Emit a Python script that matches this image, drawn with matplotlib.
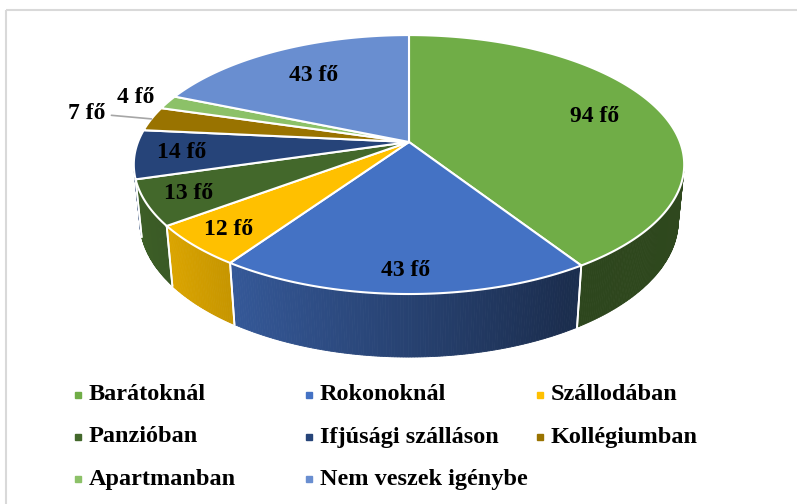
import numpy as np
import matplotlib.pyplot as plt
from matplotlib.patches import Polygon, Rectangle

# data
categories = ["Barátoknál", "Rokonoknál", "Szállodában", "Panzióban",
              "Ifjúsági szálláson", "Kollégiumban", "Apartmanban", "Nem veszek igénybe"]
values = [94, 43, 12, 13, 14, 7, 4, 43]
value_labels = [f"{v} fő" for v in values]

colors = ["#70AD47", "#4472C4", "#FFC000", "#43682B",
          "#264479", "#997300", "#8CC168", "#698ED0"]
# radial position of each data label (fraction of radius)
label_r = [0.74, 0.87, 0.86, 0.85, 0.83, 1.26, 1.14, 0.70]

# 3d pie geometry (pixel space)
CX, CY = 409, 142          # pie centre on the image
S = 271                    # radius scale
PHI = np.radians(27.6)     # tilt
D = 5.09                   # camera distance
H = 0.236                  # thickness


def proj(x, y, z=0.0):
    w = 1 + (y * np.cos(PHI) - z * np.sin(PHI)) / D
    sx = S * x / w
    sy = S * (y * np.sin(PHI) + z * np.cos(PHI)) / w
    return CX + sx, CY - sy


def rim(t_deg, r=1.0, z=0.0):
    t = np.radians(t_deg)
    return proj(r * np.cos(t), r * np.sin(t), z)


def shade(hexcol, t_deg):
    x = np.cos(np.radians(t_deg))
    f = np.interp(x, [-1, -0.55, 0.5, 1], [0.93, 0.77, 0.40, 0.42])
    rgb = np.array([int(hexcol[i:i + 2], 16) for i in (1, 3, 5)]) / 255
    return tuple(rgb * f)


fig = plt.figure(figsize=(7.97, 5.04), dpi=100)
ax = fig.add_axes([0, 0, 1, 1])
ax.set_xlim(0, 797)
ax.set_ylim(504, 0)
ax.axis("off")

ax.add_patch(Rectangle((6.5, 9.5), 850, 560, fill=False, edgecolor="#D9D9D9", lw=1.5))

total = sum(values)
cum = np.concatenate([[0], np.cumsum(values)])
starts = 90 - cum[:-1] * 360 / total
ends = 90 - cum[1:] * 360 / total

# visible part of the side wall
s_lim = np.degrees(np.arcsin(1 / (D * np.cos(PHI))))
vis_lo, vis_hi = -180 + s_lim, -s_lim

# side walls
for a0, a1, col in zip(starts, ends, colors):
    lo, hi = max(a1, vis_lo), min(a0, vis_hi)
    if lo >= hi:
        continue
    ts = np.linspace(hi, lo, max(int((hi - lo) / 0.5), 2))
    for t0, t1 in zip(ts[:-1], ts[1:]):
        pts = [rim(t0), rim(t1), rim(t1, z=-H), rim(t0, z=-H)]
        c = shade(col, (t0 + t1) / 2)
        ax.add_patch(Polygon(pts, closed=True, facecolor=c, edgecolor=c, lw=0.6))
    for t in (a0, a1):
        if vis_lo < t < vis_hi:
            p, q = rim(t), rim(t, z=-H)
            ax.plot([p[0], q[0]], [p[1], q[1]], color="white", lw=1.3)

# top face
for a0, a1, col in zip(starts, ends, colors):
    ts = np.linspace(a0, a1, max(int(abs(a0 - a1)), 2) * 2)
    pts = [proj(0, 0)] + [rim(t) for t in ts]
    ax.add_patch(Polygon(pts, closed=True, facecolor=col, edgecolor="white", lw=1.5))

# data labels
lab_font = dict(family="Liberation Serif", weight="bold", size=17, color="black")
for a0, a1, txt, r in zip(starts, ends, value_labels, label_r):
    mid = (a0 + a1) / 2
    pos = rim(mid, r)
    if r > 1.2:
        ax.annotate(txt, xy=rim(mid), xytext=pos, ha="center", va="center",
                    arrowprops=dict(arrowstyle="-", color="#A6A6A6", lw=1.2,
                                    shrinkA=2, shrinkB=0), **lab_font)
    else:
        ax.text(pos[0], pos[1], txt, ha="center", va="center", **lab_font)

# legend laid out row by row as in the original
leg_font = dict(family="Liberation Serif", weight="bold", size=17.5, color="black")
for i, (name, col) in enumerate(zip(categories, colors)):
    row, c = divmod(i, 3)
    x = 78 + c * 231
    y = 395 + row * 42
    ax.plot([x], [y], marker="s", ms=4.5, color=col, mec=col)
    ax.text(x + 11, y, name, ha="left", va="center", **leg_font)

fig.savefig("out.png", dpi=100)
